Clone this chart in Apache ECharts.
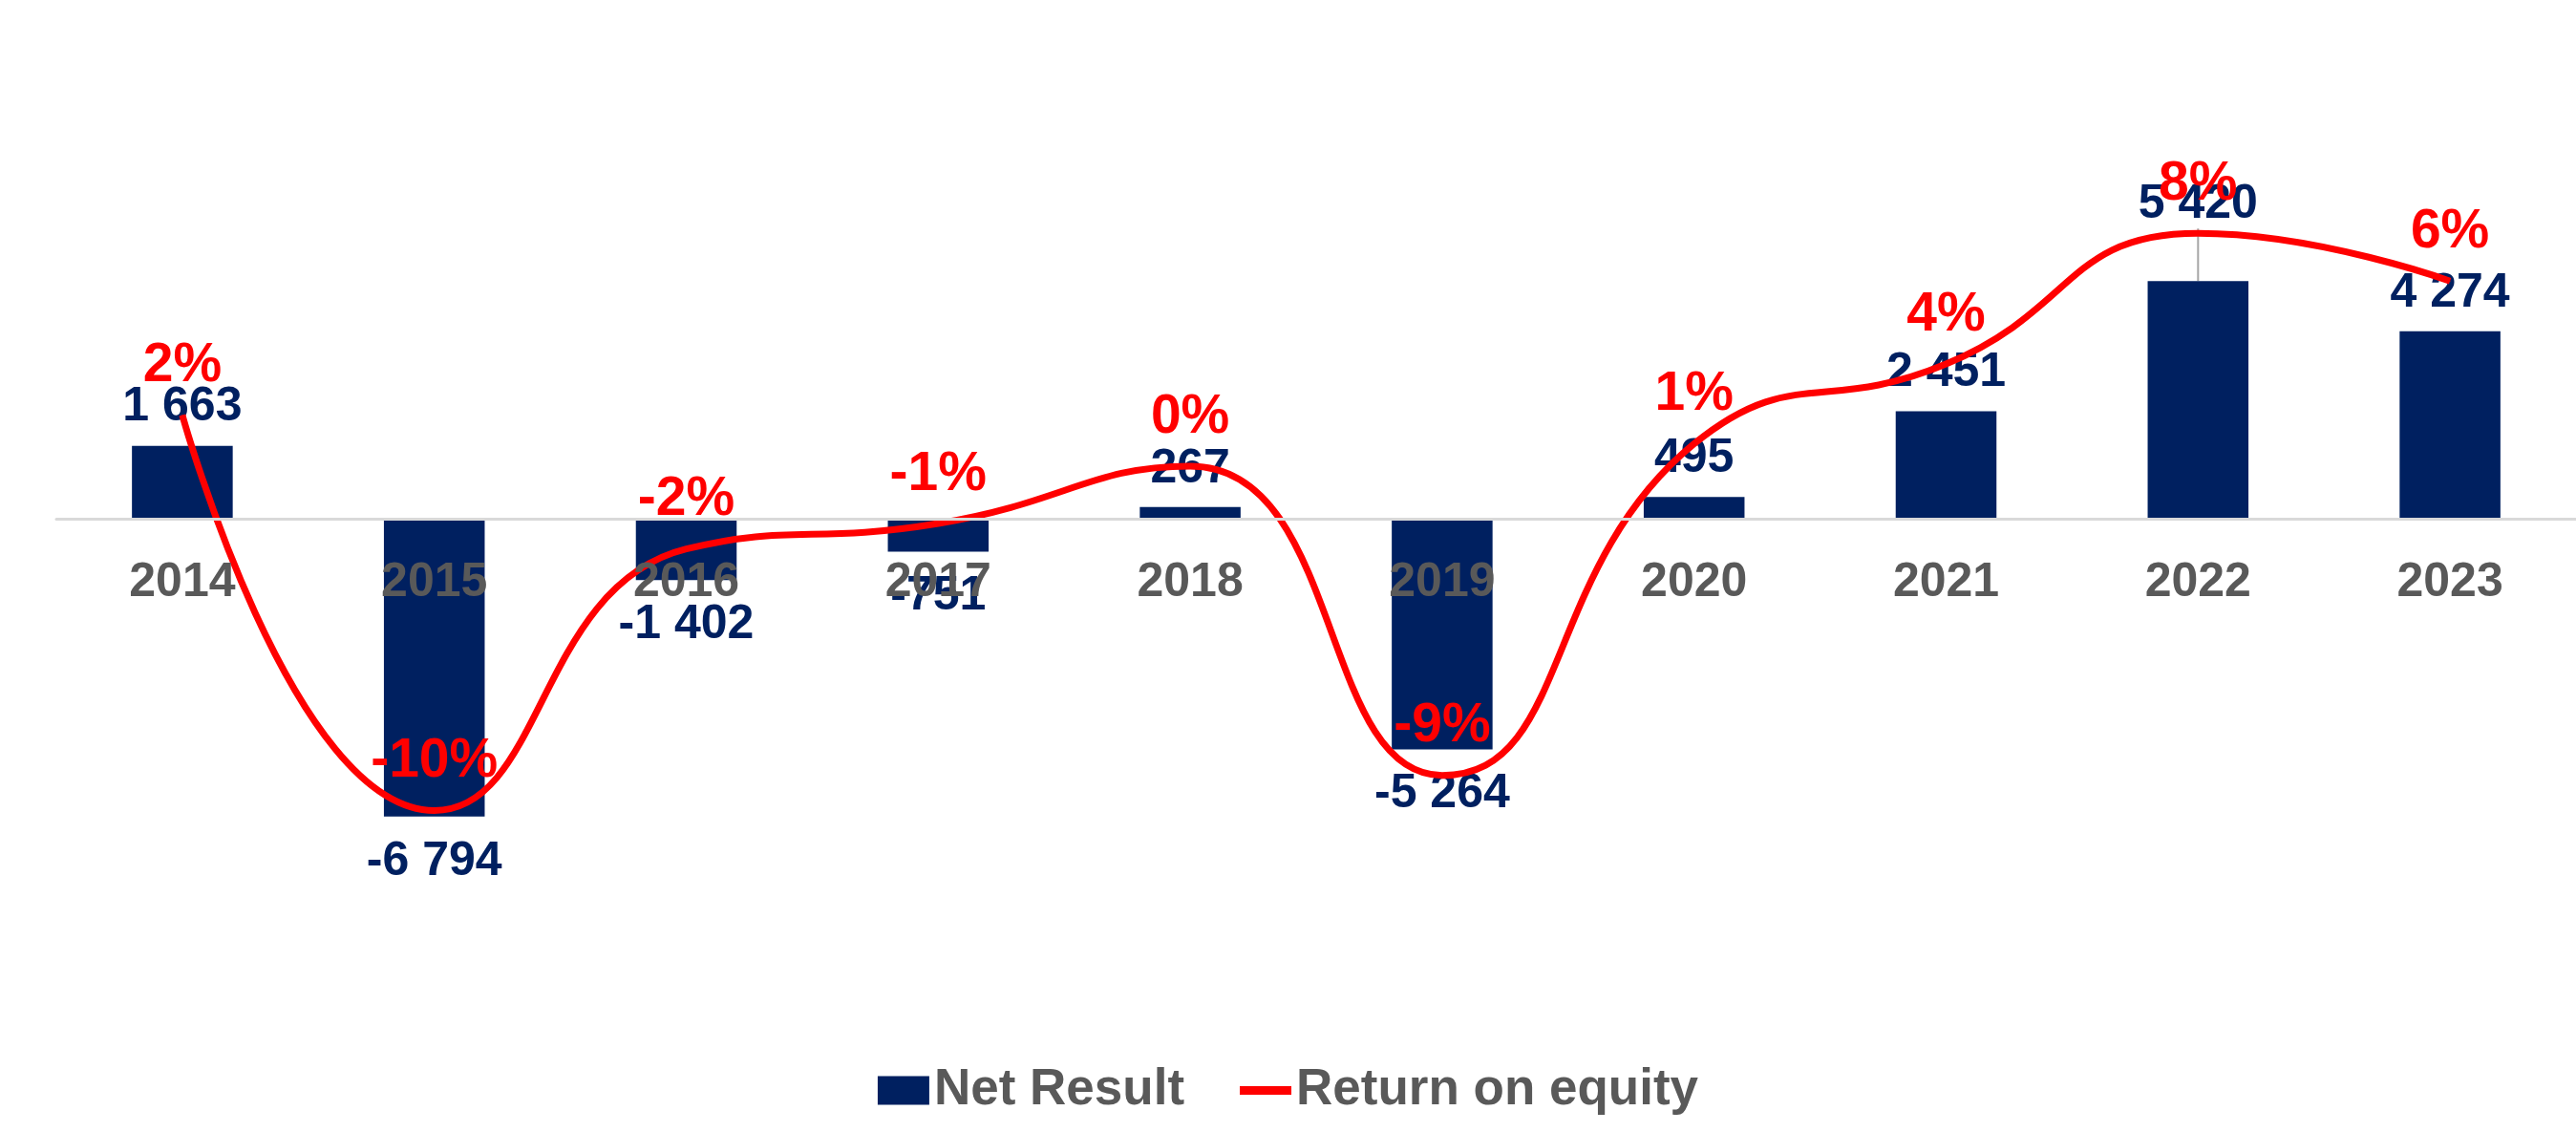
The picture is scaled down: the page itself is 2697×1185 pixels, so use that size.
<!DOCTYPE html>
<html>
  <head>
    <meta charset="utf-8" />
    <title>Net Result / ROE</title>
    <script src="https://cdn.jsdelivr.net/npm/echarts@6/dist/echarts.min.js"></script>
  </head>
  <body style="margin: 0">
    <div id="chart" style="width: 2697px; height: 1185px"></div>
    <script type="text/javascript">
      // data
      var years = ["2014", "2015", "2016", "2017", "2018", "2019", "2020", "2021", "2022", "2023"];
      var netResult = [1663, -6794, -1402, -751, 267, -5264, 495, 2451, 5420, 4274];
      var roe = [2.0, -10.4, -2.2, -1.4, 0.4, -9.3, 1.1, 3.6, 7.7, 6.2]; // %

      var font = "'Liberation Sans', Arial, sans-serif";
      var navy = "#002060";

      var barData = netResult.map(function (v, i) {
        var item = { value: v };
        if (v < 0) item.label = { position: "bottom", distance: 22 };
        if (i === 8) item.labelLine = { show: true, lineStyle: { color: "#A6A6A6", width: 2 } };
        return item;
      });

      function fmt(v) {
        var s = Math.abs(v).toString();
        s = s.replace(/\B(?=(\d{3})+(?!\d))/g, " ");
        return (v < 0 ? "-" : "") + s;
      }

      var chart = echarts.init(document.getElementById("chart"));
      var option = {
        animation: false,
        textStyle: { fontFamily: font },
        grid: { left: 59, right: 0, top: 84, bottom: 183 },
        legend: {
          bottom: 12,
          left: "center",
          itemWidth: 54,
          itemHeight: 30,
          itemGap: 58,
          textStyle: { fontSize: 53, fontWeight: "bold", color: "#595959", fontFamily: font },
          data: [
            { name: "Net Result", icon: "rect" },
            { name: "Return on equity", icon: "path://M0,0H60V10H0Z" },
          ],
        },
        xAxis: {
          type: "category",
          data: years,
          z: 10,
          position: "bottom",
          offset: -459, // sit on the zero line of the bar axis
          axisLine: { onZero: false, lineStyle: { color: "#D9D9D9", width: 3 } },
          axisTick: { show: false },
          axisLabel: { margin: 42, fontSize: 50, fontWeight: "bold", color: "#595959" },
        },
        yAxis: [
          { type: "value", min: -10000, max: 10000, show: false, splitLine: { show: false } },
          { type: "value", min: -15, max: 12.5, show: false, splitLine: { show: false } },
        ],
        series: [
          {
            name: "Net Result",
            type: "bar",
            data: barData,
            barWidth: "40%",
            itemStyle: { color: navy },
            label: {
              show: true,
              position: "top",
              distance: 15,
              fontSize: 50,
              fontWeight: "bold",
              color: navy,
              formatter: function (p) { return fmt(p.value); },
            },
            labelLayout: function (p) {
              if (p.dataIndex === 8) return { dy: -40 };
            },
          },
          {
            name: "Return on equity",
            type: "line",
            yAxisIndex: 1,
            data: roe,
            smooth: 0.5,
            symbol: "circle",
            symbolSize: 1,
            z: 5,
            itemStyle: { color: "#FF0000" },
            lineStyle: { color: "#FF0000", width: 7 },
            label: {
              show: true,
              position: "top",
              distance: 22,
              fontSize: 57,
              fontWeight: "bold",
              color: "#FF0000",
              formatter: function (p) { return Math.round(p.value) + "%"; },
            },
          },
        ],
      };
      chart.setOption(option);
    </script>
  </body>
</html>
